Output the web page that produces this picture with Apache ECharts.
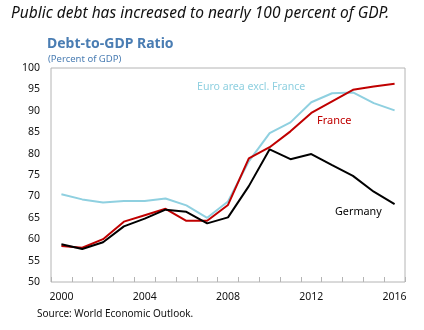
<!DOCTYPE html>
<html>
<head>
<meta charset="utf-8">
<script src="https://cdn.jsdelivr.net/npm/echarts@6/dist/echarts.min.js"></script>
<style>
  html, body { margin: 0; padding: 0; background: #fff; }
  #chart { width: 424px; height: 330px; }
</style>
</head>
<body>
<div id="chart"></div>
<script>
// Years on the horizontal axis
const years = ['2000','2001','2002','2003','2004','2005','2006','2007','2008',
               '2009','2010','2011','2012','2013','2014','2015','2016'];

// Debt-to-GDP ratios, percent of GDP
const euroExFrance = [70.5, 69.3, 68.6, 68.9, 68.9, 69.5, 67.9, 65.0, 68.8,
                      78.2, 84.8, 87.3, 92.0, 94.1, 94.3, 91.8, 90.1];
const france       = [58.4, 58.0, 60.0, 64.1, 65.6, 67.1, 64.3, 64.3, 68.0,
                      78.9, 81.5, 85.2, 89.5, 92.2, 94.9, 95.7, 96.3];
const germany      = [58.8, 57.7, 59.3, 63.0, 64.8, 66.9, 66.4, 63.7, 65.1,
                      72.4, 81.0, 78.7, 79.9, 77.3, 74.8, 71.1, 68.2];

// Value axis range
const yMin = 50, yMax = 100, yStep = 5;

const FONT = 'Noto Sans';
const chart = echarts.init(document.getElementById('chart'), null, { renderer: 'canvas' });

chart.setOption({
  animation: false,
  backgroundColor: '#ffffff',
  textStyle: { fontFamily: FONT },
  title: [
    {
      text: 'Public debt has increased to nearly 100 percent of GDP.',
      left: 11, top: 6, padding: 0,
      textStyle: { fontFamily: FONT, fontStyle: 'italic', fontWeight: 'normal', fontSize: 15.5, color: '#111' }
    },
    {
      text: 'Debt-to-GDP Ratio',
      left: 47, top: 37, padding: 0,
      textStyle: { fontFamily: FONT, fontWeight: 'bold', fontSize: 14, color: '#4a7db3' }
    },
    {
      text: '(Percent of GDP)',
      left: 48, top: 54, padding: 0,
      textStyle: { fontFamily: FONT, fontWeight: 'normal', fontSize: 9.5, color: '#4a7db3' }
    },
    {
      text: 'Source: World Economic Outlook.',
      left: 37, top: 309, padding: 0,
      textStyle: { fontFamily: FONT, fontWeight: 'normal', fontSize: 10, color: '#111' }
    }
  ],
  grid: {
    left: 51, right: 19, top: 68, bottom: 48,
    show: true, borderColor: '#b4b4b4', borderWidth: 1, backgroundColor: 'transparent'
  },
  xAxis: {
    type: 'category',
    data: years,
    boundaryGap: true,
    axisLine: { show: false },
    axisTick: { show: true, inside: true, length: 5, interval: 0, lineStyle: { color: '#b4b4b4' } },
    axisLabel: { interval: 3, margin: 10, fontSize: 10.5, color: '#111', fontFamily: FONT },
    splitLine: { show: false }
  },
  yAxis: {
    type: 'value',
    min: yMin, max: yMax, interval: yStep,
    axisLine: { show: false },
    axisTick: { show: false },
    axisLabel: { margin: 11, fontSize: 10.5, color: '#111', fontFamily: FONT },
    splitLine: { show: false }
  },
  series: [
    {
      name: 'Euro area excl. France', type: 'line', data: euroExFrance,
      symbol: 'none', lineStyle: { color: '#8fd0e0', width: 2 }, z: 2
    },
    {
      name: 'France', type: 'line', data: france,
      symbol: 'none', lineStyle: { color: '#c00000', width: 2 }, z: 3
    },
    {
      name: 'Germany', type: 'line', data: germany,
      symbol: 'none', lineStyle: { color: '#000000', width: 2 }, z: 4
    }
  ],
  graphic: [
    { type: 'text', left: 197, top: 81,
      style: { text: 'Euro area excl. France', fill: '#8fd0e0', font: '10.6px "Noto Sans"' } },
    { type: 'text', left: 317, top: 115,
      style: { text: 'France', fill: '#c00000', font: '11px "Noto Sans"' } },
    { type: 'text', left: 335, top: 206,
      style: { text: 'Germany', fill: '#000000', font: '10.8px "Noto Sans"' } }
  ]
});
</script>
</body>
</html>
